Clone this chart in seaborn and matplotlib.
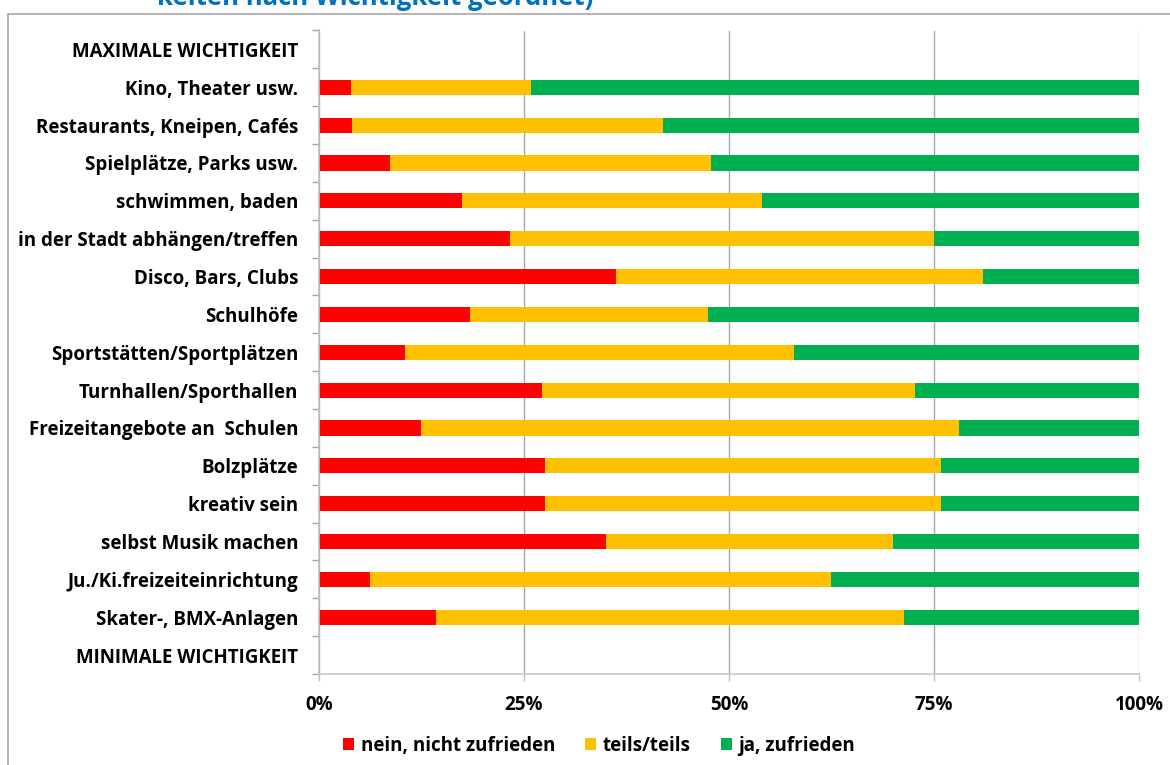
import numpy as np
import pandas as pd
import matplotlib
matplotlib.use("Agg")
import matplotlib.pyplot as plt
import seaborn as sns
from matplotlib.lines import Line2D
from matplotlib.patches import Patch

# Rows from most to least important; the first and last rows are only scale markers
categories = [
    "MAXIMALE WICHTIGKEIT",
    "Kino, Theater usw.",
    "Restaurants, Kneipen, Cafés",
    "Spielplätze, Parks usw.",
    "schwimmen, baden",
    "in der Stadt abhängen/treffen",
    "Disco, Bars, Clubs",
    "Schulhöfe",
    "Sportstätten/Sportplätzen",
    "Turnhallen/Sporthallen",
    "Freizeitangebote an  Schulen",
    "Bolzplätze",
    "kreativ sein",
    "selbst Musik machen",
    "Ju./Ki.freizeiteinrichtung",
    "Skater-, BMX-Anlagen",
    "MINIMALE WICHTIGKEIT",
]
rated = categories[1:-1]

# Share of answers in percent
nein = [3.9, 4.0, 8.6, 17.4, 23.3, 36.2, 18.4, 10.5, 27.2, 12.5, 27.6, 27.6, 35.0, 6.2, 14.3]
teils = [22.0, 38.0, 39.2, 36.6, 51.7, 44.8, 29.0, 47.4, 45.5, 65.6, 48.2, 48.2, 35.0, 56.3, 57.0]
ja = [74.1, 58.0, 52.2, 46.0, 25.0, 19.0, 52.6, 42.1, 27.3, 21.9, 24.2, 24.2, 30.0, 37.5, 28.7]

series_names = ["nein, nicht zufrieden", "teils/teils", "ja, zufrieden"]
colors = ["#FF0000", "#FFC000", "#00B050"]
tick_values = [0, 25, 50, 75, 100]
tick_labels = ["0%", "25%", "50%", "75%", "100%"]
title_fragment = "keiten nach Wichtigkeit geordnet)"

sns.set_theme(style="white")
plt.rcParams["font.family"] = ["Open Sans", "DejaVu Sans"]
plt.rcParams["font.weight"] = "bold"
plt.rcParams["text.color"] = "#000000"
LABEL_SIZE = 13.5

W, H = 1170, 765
fig = plt.figure(figsize=(W / 100, H / 100), dpi=100)
ax = fig.add_axes([319 / W, 1 - 674 / H, (1139 - 319) / W, (674 - 30.5) / H])

df = pd.DataFrame({"cat": rated, "nein": nein, "teils": teils, "ja": ja})
cum = df[["nein", "teils", "ja"]].cumsum(axis=1)

# Stacked bars: draw the cumulative totals from back to front
for col, color in zip(["ja", "teils", "nein"], colors[::-1]):
    sns.barplot(
        x=cum[col], y=df["cat"], order=categories, orient="h",
        color=color, saturation=1, width=0.4, errorbar=None,
        linewidth=0, ax=ax,
    )

ax.set_xlim(0, 100)
ax.set_ylim(len(categories) - 0.5, -0.5)
ax.set_xlabel("")
ax.set_ylabel("")

ax.set_xticks(tick_values)
ax.set_xticklabels(tick_labels)
ax.xaxis.grid(True, color="#A6A6A6", linewidth=1.0)
ax.yaxis.grid(False)
ax.set_axisbelow(True)

ax.set_yticks(range(len(categories)))
ax.set_yticklabels(categories)
ax.set_yticks(np.arange(-0.5, len(categories)), minor=True)

ax.tick_params(axis="y", which="major", length=0, pad=15, labelsize=LABEL_SIZE, labelcolor="#000000")
ax.tick_params(axis="y", which="minor", length=5, width=1.0, color="#A6A6A6", direction="out")
ax.tick_params(axis="x", which="major", length=5, width=1.0, color="#BFBFBF",
               direction="out", pad=10, labelsize=LABEL_SIZE, labelcolor="#000000")
ax.tick_params(left=True, bottom=True)
ax.yaxis.set_tick_params(which="minor", left=True)

for side in ["top", "right"]:
    ax.spines[side].set_visible(False)
ax.spines["left"].set_color("#BFBFBF")
ax.spines["left"].set_linewidth(1.2)
ax.spines["bottom"].set_color("#C8C8C8")
ax.spines["bottom"].set_linewidth(1.2)

for lab in ax.get_yticklabels() + ax.get_xticklabels():
    lab.set_fontweight("bold")

handles = [Patch(facecolor=c, edgecolor="none", label=n) for c, n in zip(colors, series_names)]
leg = fig.legend(handles=handles, loc="center", bbox_to_anchor=(599 / W, 1 - 746 / H),
                 ncol=3, frameon=False, handlelength=0.6, handleheight=0.6,
                 handletextpad=0.35, columnspacing=1.6,
                 prop={"size": LABEL_SIZE, "weight": "bold"})
for t in leg.get_texts():
    t.set_color("#000000")

# Chart frame (top and left edges) and the heading line above it
fig.add_artist(Line2D([8 / W, 1.0], [1 - 14 / H, 1 - 14 / H], transform=fig.transFigure,
                      color="#A0A0A0", linewidth=1.1))
fig.add_artist(Line2D([8 / W, 8 / W], [1 - 14 / H, 0.0], transform=fig.transFigure,
                      color="#A0A0A0", linewidth=1.1))
fig.text(157 / W, 1 - 5 / H, title_fragment, color="#0070C0", fontsize=18.5,
         fontweight="bold", ha="left", va="baseline")

fig.savefig("out.png", dpi=100)
